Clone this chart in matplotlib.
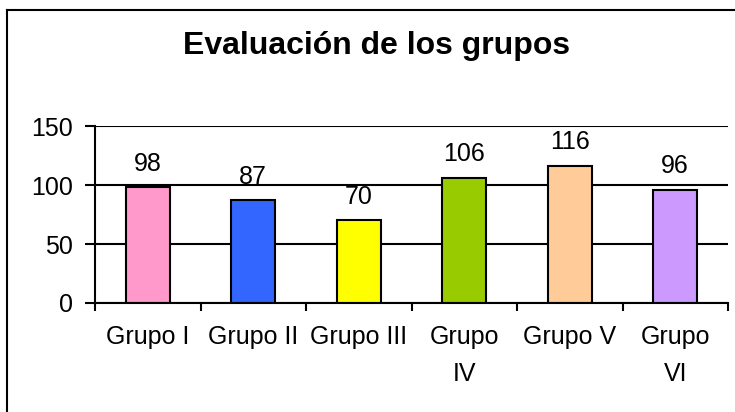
import matplotlib
matplotlib.use("Agg")
import matplotlib.pyplot as plt
from matplotlib.lines import Line2D

# ── Data ──────────────────────────────────────────────────────────────────────
grupos = ["Grupo I", "Grupo II", "Grupo III", "Grupo\nIV", "Grupo V", "Grupo\nVI"]
valores = [98, 87, 70, 106, 116, 96]
colores = ["#FF99CC", "#3366FF", "#FFFF00", "#99CC00", "#FFCC99", "#CC99FF"]
y_ticks = [0, 50, 100, 150]

plt.rcParams["font.family"] = ["Liberation Sans", "DejaVu Sans"]

W, H = 735, 412
fig = plt.figure(figsize=(W / 100, H / 100), dpi=100)
fig.patch.set_facecolor("white")

# axes rectangle in pixel terms (left 95, right 728, top 126, bottom 303)
ax = fig.add_axes([95 / W, 1 - 303 / H, (728 - 95) / W, (303 - 126) / H])

x = range(len(grupos))
ax.bar(x, valores, width=0.42, color=colores, edgecolor="black",
       linewidth=1.5, zorder=3)

for xi, v in zip(x, valores):
    ax.annotate(f"{v}", xy=(xi, v), xytext=(0, 12), textcoords="offset points",
                ha="center", va="baseline", fontsize=18, color="black")

ax.set_xlim(-0.5, len(grupos) - 0.5)
ax.set_ylim(0, 150)
ax.set_yticks(y_ticks)
ax.set_yticklabels([str(t) for t in y_ticks])

# labels centred under bars, tick marks on category boundaries
ax.set_xticks(list(x))
ax.set_xticklabels(grupos, fontsize=18, linespacing=1.65)
ax.set_xticks([i - 0.5 for i in range(len(grupos) + 1)], minor=True)
ax.tick_params(axis="x", which="major", length=0, pad=16)
ax.tick_params(axis="x", which="minor", length=6, width=1.5, direction="out")
ax.tick_params(axis="y", length=7, width=1.5, direction="out", pad=9, labelsize=18)

ax.grid(axis="y", color="black", linewidth=1.5, zorder=1)
ax.set_axisbelow(True)
for side in ("top", "right"):
    ax.spines[side].set_visible(False)
for side in ("left", "bottom"):
    ax.spines[side].set_linewidth(1.5)
    ax.spines[side].set_zorder(4)

fig.text(377 / W, 1 - 46 / H, "Evaluación de los grupos", ha="center",
         va="center", fontsize=23, fontweight="bold")

# chart-area frame (only top and left edges fall inside the image)
fig.add_artist(Line2D([7.5 / W, 1.0], [1 - 9.5 / H, 1 - 9.5 / H],
                      color="black", linewidth=1.5, transform=fig.transFigure))
fig.add_artist(Line2D([7.5 / W, 7.5 / W], [0.0, 1 - 9.5 / H],
                      color="black", linewidth=1.5, transform=fig.transFigure))

fig.savefig("out.png", dpi=100, facecolor="white")
